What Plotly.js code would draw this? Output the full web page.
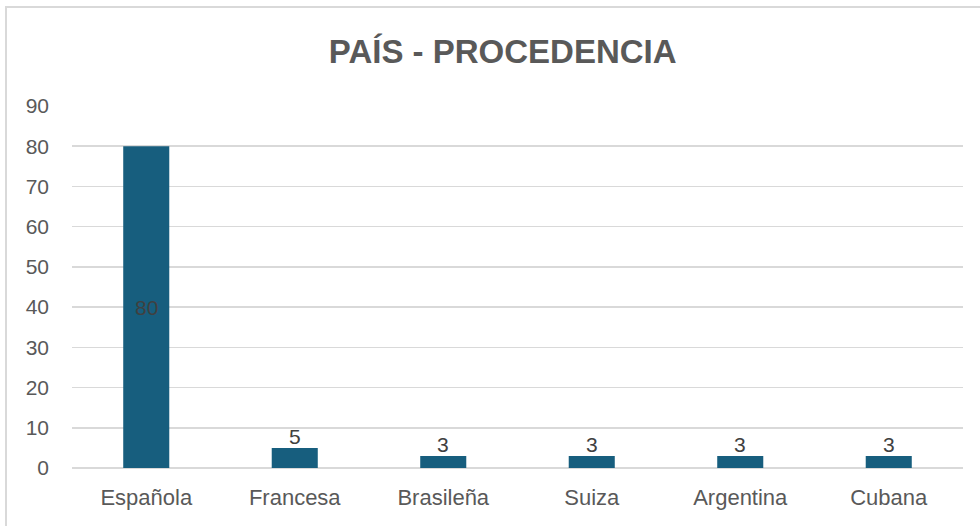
<!DOCTYPE html>
<html>
<head>
<meta charset="utf-8">
<script src="https://cdn.plot.ly/plotly-3.0.1.min.js"></script>
<style>
  html, body { margin: 0; padding: 0; background: #ffffff; }
  #wrap { position: relative; width: 980px; height: 526px; overflow: hidden; }
  #chart { width: 980px; height: 526px; }
  #frame { position: absolute; left: 5px; top: 6px; width: 990px; height: 540px;
           border-top: 2px solid #d9d9d9; border-left: 2px solid #d9d9d9; pointer-events: none; }
</style>
</head>
<body>
<div id="wrap">
  <div id="chart"></div>
  <div id="frame"></div>
</div>
<script>
const categories = ["Española", "Francesa", "Brasileña", "Suiza", "Argentina", "Cubana"];
const values = [80, 5, 3, 3, 3, 3];
const yTicks = [0, 10, 20, 30, 40, 50, 60, 70, 80, 90];

const barColor = "#175E7E";
const textColor = "#404040";
const axisColor = "#595959";
const gridColor = "#d9d9d9";
const fam = "Liberation Sans, Arial, sans-serif";

// Labels: large bar centred inside, small bars sitting on top
const annotations = categories.map((c, i) => {
  const big = values[i] > 20;
  return {
    x: c, y: big ? values[i] / 2 : values[i],
    xref: "x", yref: "y",
    text: String(values[i]),
    showarrow: false,
    yanchor: big ? "middle" : "bottom",
    yshift: big ? 0 : -2,
    font: { family: fam, size: 21, color: textColor }
  };
});

const trace = {
  type: "bar",
  x: categories,
  y: values,
  marker: { color: barColor, line: { width: 0 } },
  hoverinfo: "x+y"
};

const layout = {
  width: 980, height: 526,
  paper_bgcolor: "#ffffff", plot_bgcolor: "#ffffff",
  margin: { l: 72, r: 17, t: 106, b: 58 },
  bargap: 0.69,
  showlegend: false,
  title: {
    text: "<b>PAÍS - PROCEDENCIA</b>",
    x: 0.513, xanchor: "center",
    y: 1 - 51 / 526, yanchor: "middle",
    font: { family: fam, size: 33, color: axisColor }
  },
  font: { family: fam, color: axisColor },
  xaxis: {
    type: "category",
    showgrid: false, zeroline: false, showline: false,
    ticks: "",
    ticklabelstandoff: 14,
    tickfont: { size: 22, color: axisColor, family: fam }
  },
  yaxis: {
    range: [0, 90],
    tickvals: yTicks,
    ticktext: yTicks.map(String),
    showgrid: true, gridcolor: gridColor, gridwidth: 1.5,
    zeroline: true, zerolinecolor: gridColor, zerolinewidth: 1.5,
    showline: false, ticks: "",
    ticklabelstandoff: 22,
    tickfont: { size: 21, color: axisColor, family: fam },
    fixedrange: true
  },
  annotations: annotations
};

Plotly.newPlot("chart", [trace], layout, { displayModeBar: false, staticPlot: true });
</script>
</body>
</html>
